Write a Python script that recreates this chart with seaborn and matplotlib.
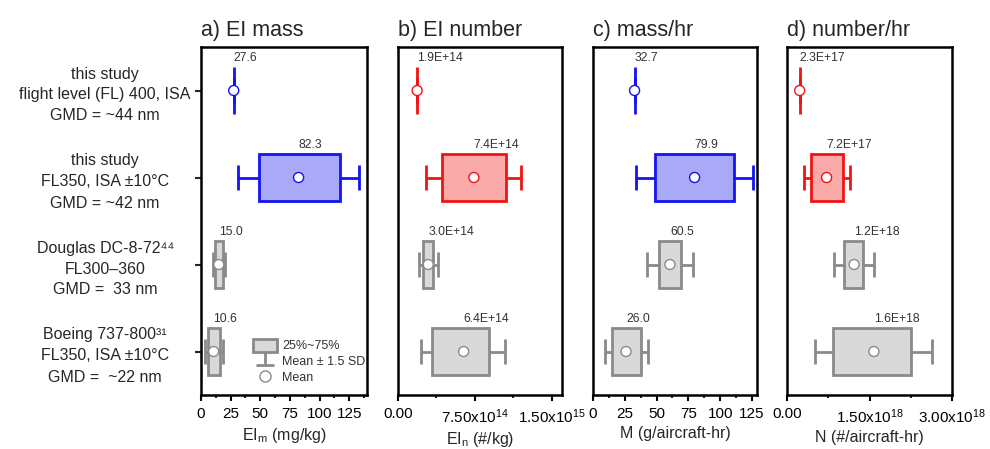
import matplotlib
matplotlib.use("Agg")
import numpy as np
import pandas as pd
import seaborn as sns
import matplotlib.pyplot as plt
from matplotlib.ticker import FixedLocator, MultipleLocator
from matplotlib.patches import Rectangle
from matplotlib.lines import Line2D

sns.set_theme(style="white")
plt.rcParams["font.family"] = ["Liberation Sans", "DejaVu Sans"]
plt.rcParams["mathtext.fontset"] = "custom"
plt.rcParams["mathtext.rm"] = "Liberation Sans"
plt.rcParams["mathtext.it"] = "Liberation Sans:italic"
plt.rcParams["mathtext.bf"] = "Liberation Sans:bold"

# ---------------- data ----------------
row_labels = [
    "this study\nflight level (FL) 400, ISA\nGMD = ~44 nm",
    "this study\nFL350, ISA \u00b110\u00b0C\nGMD = ~42 nm",
    "Douglas DC-8-72\u2074\u2074\nFL300\u2013360\nGMD =  33 nm",
    "Boeing 737-800\u00b3\u00b9\nFL350, ISA \u00b110\u00b0C\nGMD =  ~22 nm",
]

# a) EI mass (mg/kg)
mean_a = [27.6, 82.3, 15.0, 10.6]
q1_a = [27.6, 48.6, 11.9, 5.7]
q3_a = [27.6, 117.3, 18.4, 16.2]
lo_a = [27.6, 31.2, 9.9, 3.6]
hi_a = [27.6, 133.6, 20.3, 18.8]

# b) EI number (#/kg)
mean_b = [1.87e14, 7.4e14, 2.95e14, 6.4e14]
q1_b = [1.87e14, 4.25e14, 2.46e14, 3.34e14]
q3_b = [1.87e14, 10.5e14, 3.44e14, 8.89e14]
lo_b = [1.87e14, 2.72e14, 2.0e14, 2.2e14]
hi_b = [1.87e14, 12.0e14, 3.9e14, 10.45e14]

# c) mass/hr (g/aircraft-hr)
mean_c = [32.7, 79.9, 60.5, 26.0]
q1_c = [32.7, 48.8, 52.2, 14.6]
q3_c = [32.7, 111.0, 69.0, 37.9]
lo_c = [32.7, 33.5, 42.4, 9.3]
hi_c = [32.7, 126.0, 78.3, 43.3]

# d) number/hr (#/aircraft-hr)
mean_d = [2.3e17, 7.2e17, 1.22e18, 1.58e18]
q1_d = [2.3e17, 4.3e17, 1.04e18, 0.84e18]
q3_d = [2.3e17, 1.01e18, 1.39e18, 2.25e18]
lo_d = [2.3e17, 3.0e17, 0.855e18, 0.51e18]
hi_d = [2.3e17, 1.145e18, 1.58e18, 2.63e18]

titles = ["a) EI mass", "b) EI number", "c) mass/hr", "d) number/hr"]
xlabels = ["EI$_\\mathregular{m}$ (mg/kg)", "EI$_\\mathregular{n}$ (#/kg)",
           "M (g/aircraft-hr)", "N (#/aircraft-hr)"]
xticks_b = [0, 7.5e14, 1.5e15]
xticklabels_b = ["0.00", "7.50x10$^{14}$", "1.50x10$^{15}$"]
xticks_d = [0, 1.5e18, 3.0e18]
xticklabels_d = ["0.00", "1.50x10$^{18}$", "3.00x10$^{18}$"]

# ---------------- style ----------------
BLUE, BLUE_F = "#1414f0", "#a9a9f7"
RED, RED_F = "#f01414", "#fbaaaa"
GRAY, GRAY_F = "#8a8a8a", "#d9d9d9"

panels = [
    dict(mean=mean_a, q1=q1_a, q3=q3_a, lo=lo_a, hi=hi_a, col=(BLUE, BLUE_F), xlim=(0, 140), fmt="{:.1f}"),
    dict(mean=mean_b, q1=q1_b, q3=q3_b, lo=lo_b, hi=hi_b, col=(RED, RED_F), xlim=(0, 1.6e15), fmt="{:.1E}"),
    dict(mean=mean_c, q1=q1_c, q3=q3_c, lo=lo_c, hi=hi_c, col=(BLUE, BLUE_F), xlim=(0, 129), fmt="{:.1f}"),
    dict(mean=mean_d, q1=q1_d, q3=q3_d, lo=lo_d, hi=hi_d, col=(RED, RED_F), xlim=(0, 3.0e18), fmt="{:.1E}"),
]

W, H = 990, 449
px_rects = [(201, 367), (398, 562), (593, 757), (787, 952)]
top_px, bot_px = 47, 395

fig = plt.figure(figsize=(W / 100, H / 100), dpi=100)
ys = np.arange(4)

for k, (p, (l, r)) in enumerate(zip(panels, px_rects)):
    ax = fig.add_axes([l / W, 1 - bot_px / H, (r - l) / W, (bot_px - top_px) / H])
    stats = []
    for i in range(4):
        stats.append(dict(med=p["mean"][i], q1=p["q1"][i], q3=p["q3"][i],
                          whislo=p["lo"][i], whishi=p["hi"][i], fliers=[], label=""))
    bp = ax.bxp(stats, positions=ys, widths=0.53, orientation="horizontal",
                patch_artist=True, showcaps=True, capwidths=0.28,
                medianprops=dict(visible=False))
    edge_cols = []
    for i in range(4):
        ec, fc = p["col"] if i < 2 else (GRAY, GRAY_F)
        edge_cols.append(ec)
        bp["boxes"][i].set(facecolor=fc, edgecolor=ec, linewidth=2.0)
        for ln in bp["whiskers"][2 * i:2 * i + 2] + bp["caps"][2 * i:2 * i + 2]:
            ln.set(color=ec, linewidth=2.0, solid_capstyle="butt")
    df = pd.DataFrame({"mean": p["mean"], "row": ys})
    sns.scatterplot(data=df, x="mean", y="row", ax=ax, s=52, color="white",
                    edgecolor=edge_cols, linewidth=1.0, zorder=5, legend=False)
    for i in range(4):
        ax.text(p["mean"][i], ys[i] - 0.30, p["fmt"].format(p["mean"][i]),
                ha="left", va="bottom", fontsize=8.8, color="#333333")

    ax.set_xlim(*p["xlim"])
    ax.set_ylim(3.5, -0.5)
    for s in ax.spines.values():
        s.set_linewidth(1.8)
        s.set_color("black")
    ax.set_title(titles[k], loc="left", fontsize=15.5, pad=8)
    ax.set_xlabel(xlabels[k], fontsize=11.5, labelpad=3)
    ax.set_ylabel("")
    if k in (0, 2):
        ax.xaxis.set_major_locator(MultipleLocator(25))
        ax.xaxis.set_minor_locator(MultipleLocator(12.5))
    elif k == 1:
        ax.xaxis.set_major_locator(FixedLocator(xticks_b))
        ax.set_xticklabels(xticklabels_b)
        ax.xaxis.set_minor_locator(MultipleLocator(3.75e14))
    else:
        ax.xaxis.set_major_locator(FixedLocator(xticks_d))
        ax.set_xticklabels(xticklabels_d)
        ax.xaxis.set_minor_locator(MultipleLocator(0.75e18))
    ax.tick_params(axis="x", which="major", direction="out", length=4, width=1.5,
                   labelsize=11, pad=5, bottom=True, colors="black")
    ax.tick_params(axis="x", which="minor", direction="out", length=2.5, width=1.5, bottom=True)
    if k == 0:
        ax.set_yticks(ys)
        ax.set_yticklabels(row_labels, fontsize=11.5)
        for t in ax.get_yticklabels():
            t.set_ha("center")
            t.set_multialignment("center")
            t.set_linespacing(1.5)
        ax.tick_params(axis="y", direction="out", length=4, width=1.5, left=True, pad=65)
        # legend key
        ax.add_patch(Rectangle((43.6, 2.862), 20.3, 0.138, facecolor=GRAY_F,
                               edgecolor=GRAY, linewidth=2.0, zorder=4))
        ax.add_line(Line2D([53.7, 53.7], [3.0, 3.16], color=GRAY, linewidth=2.0, zorder=4))
        ax.add_line(Line2D([46.9, 60.5], [3.16, 3.16], color=GRAY, linewidth=2.0, zorder=4))
        ax.scatter([53.7], [3.28], s=64, facecolor="white", edgecolor=GRAY, linewidth=1.0, zorder=5)
        ax.text(68.7, 2.94, "25%~75%", fontsize=9, va="center", ha="left", color="#333333")
        ax.text(68.7, 3.125, "Mean \u00b1 1.5 SD", fontsize=9, va="center", ha="left", color="#333333")
        ax.text(68.7, 3.30, "Mean", fontsize=9, va="center", ha="left", color="#333333")
    else:
        ax.set_yticks([])

fig.savefig("out.png", dpi=100)
